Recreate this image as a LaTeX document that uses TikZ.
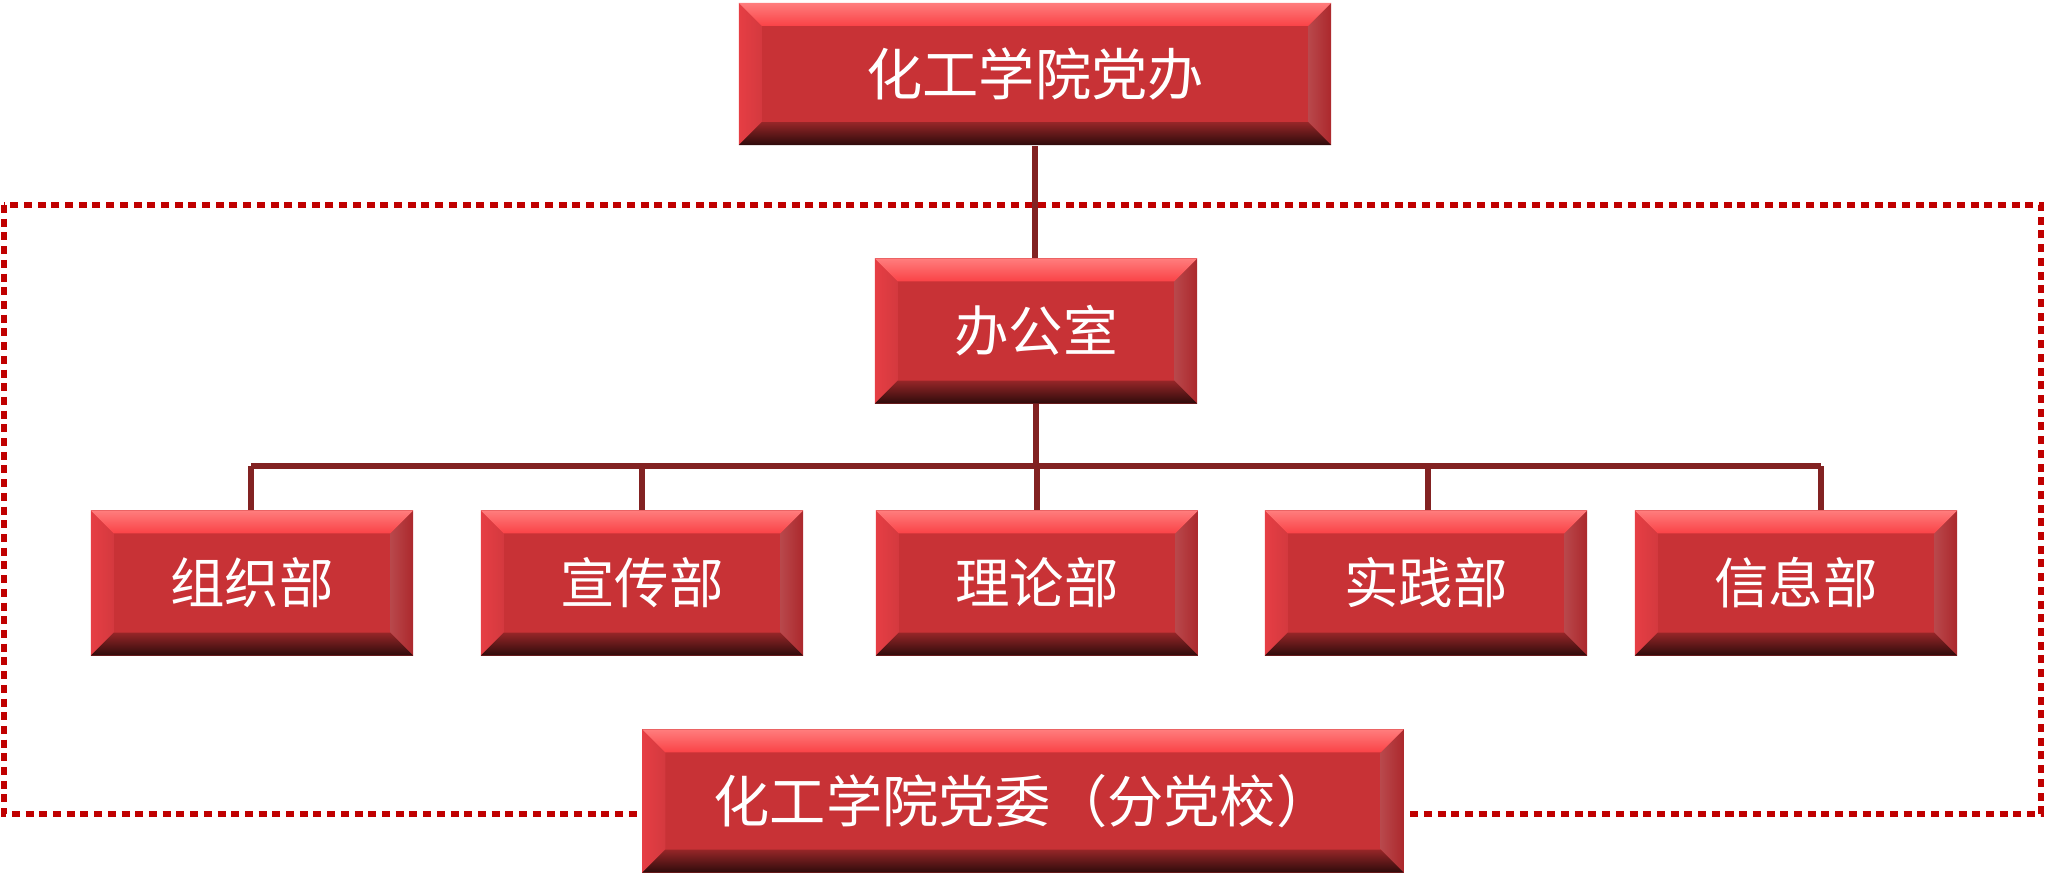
\documentclass[tikz,border=0pt]{standalone}
\usepackage{fontspec}
\newfontfamily\cjk{Noto Sans CJK SC}
\usetikzlibrary{calc}

\definecolor{boxred}{RGB}{200,50,54}
\definecolor{bevtop}{RGB}{255,125,125}
\definecolor{bevtopin}{RGB}{250,66,70}
\definecolor{bevleft}{RGB}{230,62,68}
\definecolor{bevright}{RGB}{172,40,44}
\definecolor{bevbot}{RGB}{46,11,11}
\definecolor{bevbotin}{RGB}{150,38,40}
\definecolor{linkred}{RGB}{130,34,34}
\definecolor{framered}{RGB}{192,0,0}

\def\bevd{0.23cm}

\tikzset{
  bevelbox/.style={rectangle, inner sep=0pt, fill=boxred, text=white,
    minimum width=3.22cm, minimum height=1.45cm,
    font=\cjk\fontsize{15.5pt}{18pt}\selectfont,
    path picture={
      \coordinate (nw) at (path picture bounding box.north west);
      \coordinate (ne) at (path picture bounding box.north east);
      \coordinate (sw) at (path picture bounding box.south west);
      \coordinate (se) at (path picture bounding box.south east);
      \shade[left color=bevleft, right color=bevleft!92!black]
        (nw) -- ($(nw)+(\bevd,-\bevd)$) -- ($(sw)+(\bevd,\bevd)$) -- (sw) -- cycle;
      \shade[left color=bevright!85!white, right color=bevright]
        (ne) -- ($(ne)+(-\bevd,-\bevd)$) -- ($(se)+(-\bevd,\bevd)$) -- (se) -- cycle;
      \shade[top color=bevtop, bottom color=bevtopin]
        (nw) -- (ne) -- ($(ne)+(-\bevd,-\bevd)$) -- ($(nw)+(\bevd,-\bevd)$) -- cycle;
      \shade[top color=bevbotin, bottom color=bevbot]
        (sw) -- (se) -- ($(se)+(-\bevd,\bevd)$) -- ($(sw)+(\bevd,\bevd)$) -- cycle;
    }},
  link/.style={draw=linkred, line width=1.8pt},
  dotframe/.style={draw=framered, line width=1.7pt, dash pattern=on 0.08cm off 0.057cm},
}

\begin{document}
\begin{tikzpicture}[x=0.01cm,y=-0.01cm]
  \useasboundingbox (0,0) rectangle (2048,876);

  % dotted frame round the branch
  \draw[dotframe] (4,205) rectangle (2041,814);

  \node[bevelbox, minimum width=5.92cm, minimum height=1.42cm,
        font=\cjk\fontsize{16pt}{18pt}\selectfont] (dangban) at (1035,74) {化工学院党办};
  \node[bevelbox] (bangongshi) at (1036,331) {办公室};

  \node[bevelbox] (zuzhi) at (252,583) {组织部};
  \node[bevelbox] (xuanchuan) at (642,583) {宣传部};
  \node[bevelbox] (lilun) at (1037,583) {理论部};
  \node[bevelbox] (shijian) at (1426,583) {实践部};
  \node[bevelbox] (xinxi) at (1796,583) {信息部};

  \node[bevelbox, minimum width=7.61cm, minimum height=1.43cm,
        font=\cjk\fontsize{16pt}{18pt}\selectfont] (dangwei) at (1023,801) {化工学院党委（分党校）};

  \coordinate (busL) at (251,466);
  \coordinate (busR) at (1821,466);

  \draw[link] (bangongshi.north -| dangban.south) -- (dangban.south);
  \draw[link] (bangongshi.south) -- (bangongshi.south |- busL);
  \draw[link] (busL) -- (busR);
  \draw[link] (busL) -- (busL |- zuzhi.north);
  \draw[link] (xuanchuan.north) -- (xuanchuan.north |- busL);
  \draw[link] (lilun.north) -- (lilun.north |- busL);
  \draw[link] ([xshift=0.02cm]shijian.north) -- ([xshift=0.02cm]shijian.north |- busL);
  \draw[link] (busR) -- (busR |- xinxi.north);
\end{tikzpicture}
\end{document}
